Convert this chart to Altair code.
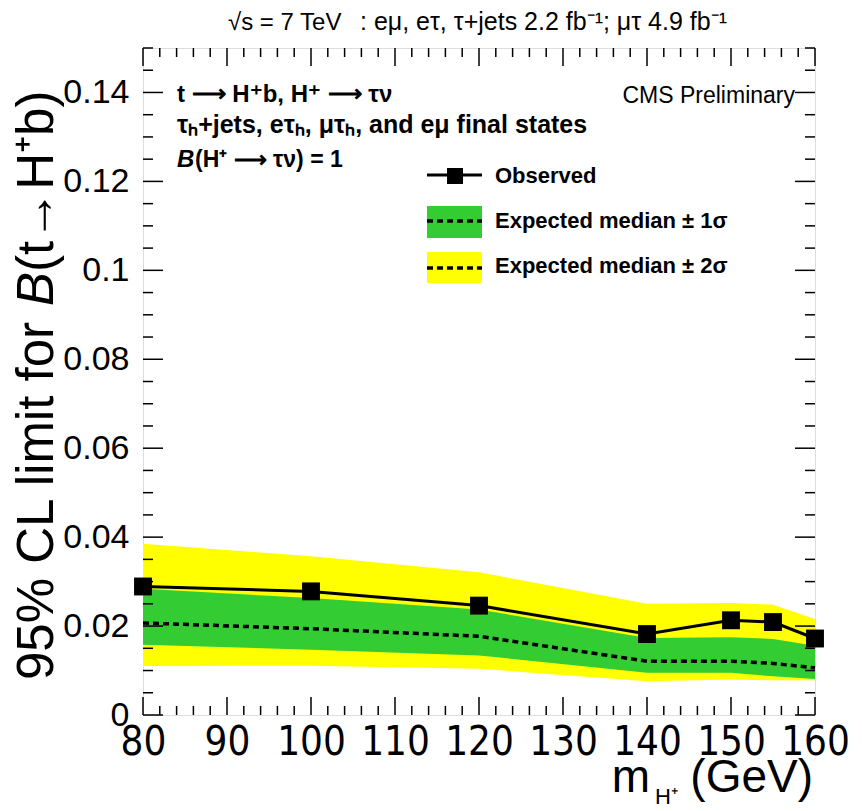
import altair as alt
import pandas as pd

# ---- data ----
mass = [80, 100, 120, 140, 150, 155, 160]
observed = [0.0289, 0.0278, 0.0246, 0.0182, 0.0213, 0.0209, 0.0172]
expected = [0.0207, 0.0194, 0.0177, 0.0121, 0.0121, 0.0116, 0.0106]
exp_minus1 = [0.0158, 0.0147, 0.0134, 0.0095, 0.0095, 0.0087, 0.0081]
exp_plus1 = [0.0284, 0.0263, 0.0237, 0.0173, 0.0175, 0.0171, 0.0156]
exp_minus2 = [0.0110, 0.0111, 0.0104, 0.0076, 0.0080, 0.0078, 0.0078]
exp_plus2 = [0.0385, 0.0357, 0.0321, 0.0250, 0.0252, 0.0248, 0.0216]

x_major = [80, 90, 100, 110, 120, 130, 140, 150, 160]
x_minor = [m for m in range(82, 160, 2) if m % 10 != 0]
y_major = [0.0, 0.02, 0.04, 0.06, 0.08, 0.10, 0.12, 0.14]
y_minor = [round(0.005 * i, 3) for i in range(1, 31) if i % 4 != 0]

df = pd.DataFrame({
    "mass": mass, "obs": observed, "exp": expected,
    "m1": exp_minus1, "p1": exp_plus1, "m2": exp_minus2, "p2": exp_plus2,
})

W, H = 672, 667
FONT = "Liberation Sans, Arial, sans-serif"
NARROW = "Liberation Sans Narrow, Arial Narrow, DejaVu Sans Condensed, Liberation Sans, sans-serif"
GREEN = "#33CC33"
YELLOW = "#FFFF00"

xs = alt.Scale(domain=[80, 160], nice=False, zero=False)
ys = alt.Scale(domain=[0, 0.15], nice=False, zero=False)

x_axis = alt.Axis(values=x_major, ticks=False, domain=False, grid=False,
                  labelFontSize=40, labelFont=NARROW,
                  labelPadding=7, labelColor="black", title=None,
                  labelFlush=False, labelOverlap=False)
y_axis = alt.Axis(values=y_major, ticks=False, domain=False, grid=False,
                  labelFontSize=34, labelFont=FONT, labelPadding=14,
                  labelColor="black", title=None, format=".2~f",
                  labelFlush=False, labelOverlap=False)


def X(field):
    return alt.X(field, type="quantitative", scale=xs, axis=x_axis)


def Y(field):
    return alt.Y(field, type="quantitative", scale=ys, axis=y_axis)


base = alt.Chart(df)

band2 = base.mark_area(color=YELLOW, opacity=1).encode(x=X("mass"), y=Y("m2"), y2="p2")
band1 = base.mark_area(color=GREEN, opacity=1).encode(x=X("mass"), y=Y("m1"), y2="p1")
exp_line = base.mark_line(color="black", strokeWidth=3.5, strokeDash=[6, 4]).encode(
    x=X("mass"), y=Y("exp"))
obs_line = base.mark_line(color="black", strokeWidth=3).encode(x=X("mass"), y=Y("obs"))
obs_pts = base.mark_point(shape="square", filled=True, color="black", size=320,
                          opacity=1).encode(x=X("mass"), y=Y("obs"))


# ---- inner ticks (ROOT style, all four sides) ----
def xticks(vals, length):
    d = alt.Chart(pd.DataFrame({"v": vals}))
    bot = d.mark_rule(color="black", strokeWidth=1.5).encode(
        x=X("v"), y=alt.value(H), y2=alt.value(H - length))
    top = d.mark_rule(color="black", strokeWidth=1.5).encode(
        x=X("v"), y=alt.value(0), y2=alt.value(length))
    return [bot, top]


def yticks(vals, length):
    d = alt.Chart(pd.DataFrame({"v": vals}))
    left = d.mark_rule(color="black", strokeWidth=1.5).encode(
        y=Y("v"), x=alt.value(0), x2=alt.value(length))
    right = d.mark_rule(color="black", strokeWidth=1.5).encode(
        y=Y("v"), x=alt.value(W), x2=alt.value(W - length))
    return [left, right]


ticks = xticks(x_major, 18) + xticks(x_minor, 9) + yticks(y_major, 20) + yticks(y_minor, 10)


# ---- text helpers (layout only) ----
def txt(s, x, y, size, weight="normal", style="normal", align="left", angle=0,
        font=FONT, baseline="alphabetic"):
    return alt.Chart(pd.DataFrame({"t": [s]})).mark_text(
        font=font, fontSize=size, fontWeight=weight, fontStyle=style,
        align=align, baseline=baseline, angle=angle, color="black"
    ).encode(x=alt.value(x), y=alt.value(y), text="t:N")


ARROW = "\u27f6"
texts = [
    txt("\u221as = 7 TeV", 85, -18, 24),
    txt(": e\u03bc, e\u03c4, \u03c4+jets 2.2 fb\u207b\u00b9; \u03bc\u03c4 4.9 fb\u207b\u00b9",
        217, -18, 25),
    txt("t " + ARROW + " H\u207ab, H\u207a " + ARROW + " \u03c4\u03bd", 34, 54, 24, weight="bold"),
    txt("\u03c4\u2095+jets, e\u03c4\u2095, \u03bc\u03c4\u2095, and e\u03bc final states", 34, 85, 25,
        weight="bold"),
    txt("B", 34, 119, 24, weight="bold", style="italic"),
    txt("(H\u207a " + ARROW + " \u03c4\u03bd) = 1", 52, 119, 23, weight="bold"),
    txt("CMS Preliminary", 652, 55, 23, align="right"),
    # x title
    txt("m", 507, 744, 46, align="right"),
    txt("H\u207a", 512, 756, 22),
    txt("(GeV)", 670, 744, 46, align="right"),
]

# y title pieces (rotated)
YF = 51
ya = 632
yx = -90
wA = 7.335 * YF
wB = 0.667 * YF
texts += [
    txt("95% CL limit for ", yx, ya, YF, align="left", angle=270),
    txt("B", yx, ya - wA, YF, style="italic", align="left", angle=270),
    txt("(t\u2192H\u207ab)", yx, ya - wA - wB, YF, align="left", angle=270),
]

# ---- legend (drawn) ----
lg = alt.Chart(pd.DataFrame({"k": [0]}))
legend = [
    lg.mark_rule(color="black", strokeWidth=3).encode(
        x=alt.value(284), x2=alt.value(339), y=alt.value(127)),
    lg.mark_point(shape="square", filled=True, color="black", size=256, opacity=1).encode(
        x=alt.value(312), y=alt.value(128)),
    lg.mark_rect(color=GREEN).encode(x=alt.value(284), x2=alt.value(339),
                                      y=alt.value(158), y2=alt.value(190)),
    lg.mark_rule(color="black", strokeWidth=3.5, strokeDash=[6, 4]).encode(
        x=alt.value(284), x2=alt.value(339), y=alt.value(173)),
    lg.mark_rect(color=YELLOW).encode(x=alt.value(284), x2=alt.value(339),
                                       y=alt.value(204), y2=alt.value(235)),
    lg.mark_rule(color="black", strokeWidth=3.5, strokeDash=[6, 4]).encode(
        x=alt.value(284), x2=alt.value(339), y=alt.value(220)),
    txt("Observed", 352, 135, 22, weight="bold"),
    txt("Expected median \u00b1 1\u03c3", 352, 180, 22, weight="bold"),
    txt("Expected median \u00b1 2\u03c3", 352, 225, 22, weight="bold"),
]

chart = alt.layer(band2, band1, exp_line, obs_line, obs_pts, *ticks, *legend, *texts).properties(
    width=W, height=H,
    autosize=alt.AutoSizeParams(type="none"),
    padding={"left": 135, "top": 40, "right": 39, "bottom": 96},
).configure_view(stroke="black", strokeWidth=2).configure(background="white")

chart.save("out.html", embed_options={"renderer": "svg", "actions": False})
